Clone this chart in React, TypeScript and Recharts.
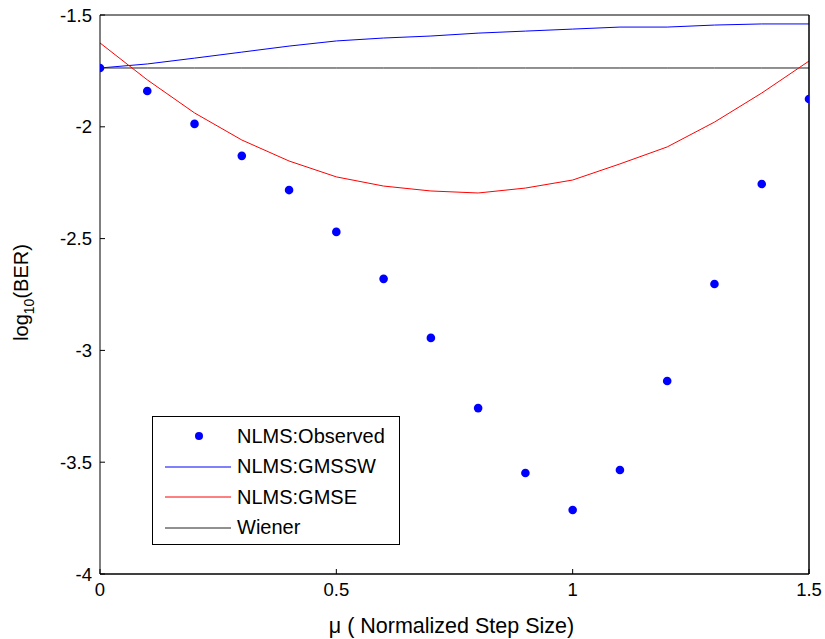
import React from 'react';
import { ComposedChart, Line, Scatter, XAxis, YAxis, Legend, Label } from 'recharts';

// step sizes (mu)
const mu = [0, 0.1, 0.2, 0.3, 0.4, 0.5, 0.6, 0.7, 0.8, 0.9, 1.0, 1.1, 1.2, 1.3, 1.4, 1.5];

// log10(BER)
const observed = [-1.737, -1.84, -1.987, -2.13, -2.283, -2.47, -2.68, -2.944, -3.258, -3.548, -3.714, -3.535, -3.137, -2.703, -2.256, -1.876];
const gmssw = [-1.737, -1.719, -1.693, -1.666, -1.639, -1.616, -1.603, -1.594, -1.581, -1.572, -1.563, -1.554, -1.554, -1.545, -1.54, -1.54];
const gmse = [-1.625, -1.79, -1.938, -2.059, -2.153, -2.224, -2.265, -2.287, -2.296, -2.274, -2.238, -2.166, -2.09, -1.979, -1.849, -1.706];
const wienerLevel = -1.737;

const xTicks = [0, 0.5, 1, 1.5];
const yTicks = [-4, -3.5, -3, -2.5, -2, -1.5];

const legendItems = [
  { name: 'NLMS:Observed', color: '#0000ff', kind: 'dot' },
  { name: 'NLMS:GMSSW', color: '#0000ff', kind: 'line' },
  { name: 'NLMS:GMSE', color: '#ff0000', kind: 'line' },
  { name: 'Wiener', color: '#222222', kind: 'line' },
];

const rows = mu.map((m, i) => ({
  mu: m,
  observed: observed[i],
  gmssw: gmssw[i],
  gmse: gmse[i],
  wiener: wienerLevel,
}));

const FONT = '"Liberation Sans", Arial, sans-serif';

const renderLegend = () => (
  <div
    style={{
      width: 248,
      height: 129,
      border: '1px solid #000',
      background: '#fff',
      fontFamily: FONT,
      fontSize: 20,
      color: '#000',
      boxSizing: 'border-box',
      paddingTop: 4,
    }}
  >
    {legendItems.map((it) => (
      <div key={it.name} style={{ display: 'flex', alignItems: 'center', height: 30.5 }}>
        <svg width={84} height={20} style={{ flex: 'none' }}>
          {it.kind === 'dot' ? (
            <circle cx={46} cy={10} r={4} fill={it.color} />
          ) : (
            <line x1={12} x2={78} y1={10} y2={10} stroke={it.color} strokeWidth={1} />
          )}
        </svg>
        <span>{it.name}</span>
      </div>
    ))}
  </div>
);

const dot = (props: any) => <circle cx={props.cx} cy={props.cy} r={4.3} fill="#0000ff" />;

const YLabel = (props: any) => {
  const vb = props.viewBox;
  const cx = 28;
  const cy = vb.y + vb.height / 2 - 2;
  return (
    <text
      transform={`rotate(-90 ${cx} ${cy})`}
      x={cx}
      y={cy}
      textAnchor="middle"
      fontFamily={FONT}
      fontSize={20}
      fill="#000"
    >
      log
      <tspan fontSize={14} dy={6}>10</tspan>
      <tspan dy={-6}>(BER)</tspan>
    </text>
  );
};

const XLabel = (props: any) => {
  const vb = props.viewBox;
  return (
    <text x={vb.x + vb.width / 2 - 3} y={633} textAnchor="middle" fontFamily={FONT} fontSize={21.5} fill="#000">
      {'\u03bc ( Normalized Step Size)'}
    </text>
  );
};

const tickStyle = { fontFamily: FONT, fontSize: 18.5, fill: '#000' };

export default function App() {
  return (
    <div style={{ position: 'absolute', left: 0, top: 0, width: 825, height: 639, background: '#fff' }}>
      <ComposedChart width={825} height={639} data={rows} margin={{ top: 14, right: 15, bottom: 0, left: 0 }}>
        <XAxis
          xAxisId="bottom"
          dataKey="mu"
          type="number"
          domain={[0, 1.5]}
          ticks={xTicks}
          height={65}
          tickSize={-5}
          tickMargin={14}
          tick={tickStyle}
          axisLine={{ stroke: '#000', strokeWidth: 1.5 }}
          tickLine={{ stroke: '#000' }}
          allowDataOverflow
        >
          <Label content={<XLabel />} />
        </XAxis>
        <XAxis
          xAxisId="top"
          dataKey="mu"
          type="number"
          orientation="top"
          domain={[0, 1.5]}
          ticks={xTicks}
          height={1}
          tickSize={-5}
          tick={false}
          axisLine={{ stroke: '#000' }}
          tickLine={{ stroke: '#000' }}
        />
        <YAxis
          yAxisId="left"
          type="number"
          domain={[-4, -1.5]}
          ticks={yTicks}
          width={100}
          tickSize={-5}
          tickMargin={13}
          tick={tickStyle}
          axisLine={{ stroke: '#000' }}
          tickLine={{ stroke: '#000' }}
          allowDataOverflow
        >
          <Label content={<YLabel />} />
        </YAxis>
        <YAxis
          yAxisId="right"
          type="number"
          orientation="right"
          domain={[-4, -1.5]}
          ticks={yTicks}
          width={1}
          tickSize={-5}
          tick={false}
          axisLine={{ stroke: '#000', strokeWidth: 1.5 }}
          tickLine={{ stroke: '#000' }}
        />
        <Line
          xAxisId="bottom"
          yAxisId="left"
          dataKey="wiener"
          stroke="#222222"
          strokeWidth={1}
          dot={false}
          activeDot={false}
          type="linear"
          isAnimationActive={false}
        />
        <Line
          xAxisId="bottom"
          yAxisId="left"
          dataKey="gmssw"
          stroke="#0000ff"
          strokeWidth={1}
          dot={false}
          activeDot={false}
          type="linear"
          isAnimationActive={false}
        />
        <Line
          xAxisId="bottom"
          yAxisId="left"
          dataKey="gmse"
          stroke="#ff0000"
          strokeWidth={1}
          dot={false}
          activeDot={false}
          type="linear"
          isAnimationActive={false}
        />
        <Scatter
          xAxisId="bottom"
          yAxisId="left"
          data={rows}
          dataKey="observed"
          shape={dot}
          isAnimationActive={false}
        />
        <Legend
          content={renderLegend}
          layout="horizontal"
          verticalAlign="middle"
          align="center"
          wrapperStyle={{ position: 'absolute', left: 152, top: 416, width: 248, height: 129 }}
        />
      </ComposedChart>
    </div>
  );
}
